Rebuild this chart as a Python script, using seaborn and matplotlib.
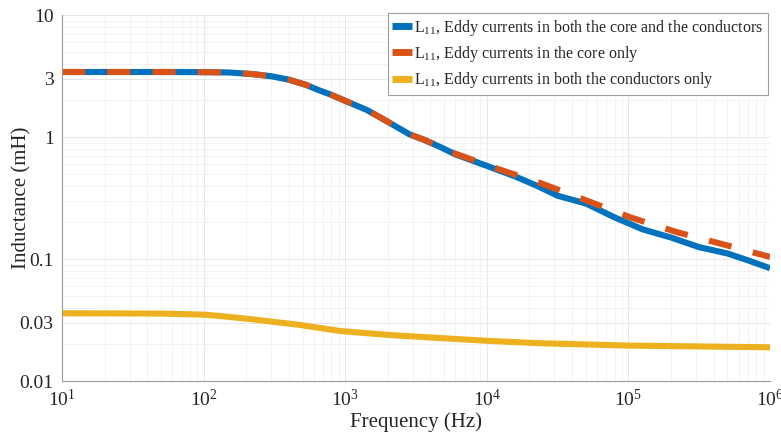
import matplotlib
matplotlib.use("Agg")
import numpy as np
import pandas as pd
import seaborn as sns
import matplotlib.pyplot as plt
from matplotlib.ticker import LogLocator, FixedLocator, FixedFormatter, NullFormatter

# ---- data ----
freq_both = [10, 30, 60, 100, 150, 220, 300, 400, 530, 650, 780, 1030, 1430, 1760,
             2200, 2850, 3600, 4670, 6000, 7250, 8870, 10000, 15850, 22400, 31600,
             50100, 79400, 126000, 200000, 316000, 501000, 708000, 1000000]
L_both = [3.41, 3.41, 3.41, 3.40, 3.38, 3.28, 3.15, 2.95, 2.67, 2.42, 2.24, 1.95, 1.66, 1.45,
          1.25, 1.05, 0.95, 0.83, 0.72, 0.665, 0.61, 0.58, 0.475, 0.40, 0.33,
          0.285, 0.22, 0.175, 0.15, 0.125, 0.111, 0.097, 0.084]

freq_core = [10, 30, 60, 100, 150, 220, 300, 400, 530, 650, 780, 1030, 1430, 1760,
             2200, 2850, 3600, 4670, 6000, 7250, 10000, 12400, 23800, 49400, 102600,
             220000, 465000, 1000000]
L_core = [3.41, 3.41, 3.41, 3.40, 3.38, 3.28, 3.15, 2.95, 2.67, 2.42, 2.24, 1.95, 1.66, 1.45,
          1.25, 1.05, 0.95, 0.83, 0.73, 0.675, 0.59, 0.54, 0.42, 0.305, 0.22,
          0.166, 0.132, 0.104]

freq_cond = [10, 50, 100, 124, 212, 480, 920, 2080, 4650, 10500, 23700, 102000, 1000000]
L_cond = [0.0359, 0.0357, 0.0350, 0.0343, 0.0322, 0.0288, 0.0257, 0.0238, 0.0225,
          0.0213, 0.0204, 0.0195, 0.0189]

series_labels = [
    r"L$_{11}$, Eddy currents in both the core and the conductors",
    r"L$_{11}$, Eddy currents in the core only",
    r"L$_{11}$, Eddy currents in both the conductors only",
]
colors = ["#0072BD", "#D95319", "#EDB120"]

y_ticks = [0.01, 0.03, 0.1, 1, 3, 10]
y_tick_labels = ["0.01", "0.03", "0.1", "1", "3", "10"]
x_ticks = [1e1, 1e2, 1e3, 1e4, 1e5, 1e6]
x_tick_labels = [r"10$^{1}$", r"10$^{2}$", r"10$^{3}$", r"10$^{4}$", r"10$^{5}$", r"10$^{6}$"]

df = pd.concat([
    pd.DataFrame({"f": freq_both, "L": L_both, "s": series_labels[0]}),
    pd.DataFrame({"f": freq_core, "L": L_core, "s": series_labels[1]}),
    pd.DataFrame({"f": freq_cond, "L": L_cond, "s": series_labels[2]}),
])

sns.set_style("white")
plt.rcParams["font.family"] = ["Liberation Serif", "DejaVu Serif"]
plt.rcParams["mathtext.fontset"] = "custom"
plt.rcParams["mathtext.rm"] = "Liberation Serif"
plt.rcParams["mathtext.it"] = "Liberation Serif:italic"
plt.rcParams["mathtext.bf"] = "Liberation Serif:bold"
plt.rcParams["mathtext.default"] = "regular"

fig = plt.figure(figsize=(7.81, 4.34), dpi=100)
ax = fig.add_axes([62 / 781, 1 - 381 / 434, (770 - 62) / 781, (381 - 15) / 434])

lw = 4.4
styles = ["-", (0, (3.8, 3.6)), "-"]
for lab, col, ls in zip(series_labels, colors, styles):
    sub = df[df["s"] == lab]
    sns.lineplot(data=sub, x="f", y="L", ax=ax, color=col, linewidth=lw,
                 linestyle=ls, label=lab, estimator=None, sort=True,
                 solid_capstyle="butt")

ax.set_xscale("log")
ax.set_yscale("log")
ax.set_xlim(10, 1e6)
ax.set_ylim(0.01, 10)

ax.xaxis.set_major_locator(FixedLocator(x_ticks))
ax.xaxis.set_major_formatter(FixedFormatter(x_tick_labels))
ax.xaxis.set_minor_locator(LogLocator(base=10, subs=np.arange(2, 10)))
ax.xaxis.set_minor_formatter(NullFormatter())
ax.yaxis.set_major_locator(FixedLocator(y_ticks))
ax.yaxis.set_major_formatter(FixedFormatter(y_tick_labels))
ax.yaxis.set_minor_locator(LogLocator(base=10, subs=np.arange(2, 10)))
ax.yaxis.set_minor_formatter(NullFormatter())

ax.grid(True, which="major", color="#e3e3e3", linewidth=0.6)
ax.grid(True, which="minor", color="#efefef", linewidth=0.5)
ax.set_axisbelow(True)

for side in ["top", "right"]:
    ax.spines[side].set_visible(False)
for side in ["left", "bottom"]:
    ax.spines[side].set_color("#9a9a9a")
    ax.spines[side].set_linewidth(0.8)

ax.tick_params(axis="both", which="major", direction="in", length=4, color="#9a9a9a",
               labelsize=14, labelcolor="#262626", pad=6)
ax.tick_params(axis="both", which="minor", direction="in", length=2, color="#9a9a9a")

ax.set_xlabel("Frequency (Hz)", fontsize=15, color="#262626")
ax.set_ylabel("Inductance (mH)", fontsize=15, color="#262626")
ax.xaxis.set_label_coords(0.5, (381 - 422) / 366, transform=ax.transAxes)
ax.yaxis.set_label_coords((22 - 62) / 708, 0.5, transform=ax.transAxes)
ax.xaxis.label.set_va("center")
ax.yaxis.label.set_va("center")

leg = ax.legend(loc="upper right", bbox_to_anchor=(0.997, 1.006), fontsize=11.5,
                frameon=True, fancybox=False, framealpha=1, edgecolor="#a0a0a0",
                handlelength=1.2, handletextpad=0.15, borderpad=0.3,
                labelspacing=0.4, borderaxespad=0)
leg.get_frame().set_linewidth(0.8)
for h in leg.get_lines():
    h.set_linestyle("-")
    h.set_linewidth(5)
    h.set_solid_capstyle("butt")

fig.savefig("out.png", dpi=100)
